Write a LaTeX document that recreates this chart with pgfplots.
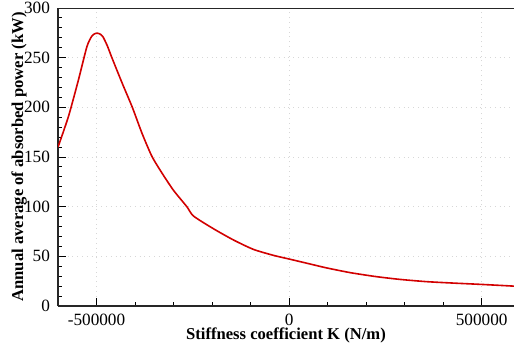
\documentclass[border=0pt]{standalone}
\usepackage{fontspec}
\setmainfont{Liberation Serif}
\usepackage{pgfplots}
\pgfplotsset{compat=1.18}
\definecolor{curvered}{RGB}{210,0,0}
\definecolor{gridgray}{RGB}{215,215,215}
\begin{document}
\begin{tikzpicture}
\begin{axis}[
  name=ax,
  scale only axis,
  width=228pt, height=149pt,
  xmin=-600000, xmax=584000,
  ymin=0, ymax=300,
  axis x line*=bottom,
  axis y line*=left,
  axis line style={-, line width=1pt, black!85},
  scaled x ticks=false,
  xtick={-500000,0,500000},
  xticklabels={-500000,0,500000},
  ytick={0,50,100,150,200,250,300},
  minor x tick num=4,
  minor y tick num=4,
  tick align=inside,
  xtick pos=bottom, ytick pos=left,
  major tick length=4pt,
  minor tick length=2.2pt,
  every tick/.style={black, line width=0.5pt},
  grid=major,
  major grid style={gridgray, dotted, line width=0.5pt},
  /pgf/number format/assume math mode=true,
  tick label style={font=\fontsize{8.6pt}{10pt}\selectfont},
  yticklabel style={xshift=-0.5pt},
  xticklabel style={yshift=-0.5pt},
  xlabel={\textbf{Stiffness coefficient K (N/m)}},
  ylabel={\textbf{Annual average of absorbed power (kW)}},
  label style={font=\fontsize{8.3pt}{10pt}\selectfont},
  xlabel style={at={(axis description cs:0.5,0)}, anchor=base, yshift=-16.5pt},
  ylabel style={at={(axis description cs:-0.0855,0.5)}, anchor=center},
  clip=true,
]
\addplot[curvered, line width=0.8pt, smooth, tension=0.4] coordinates {
(-600000,160)
(-573000,190.6)
(-547000,227.5)
(-525000,261)
(-512000,271.8)
(-502000,274.5)
(-493000,274.2)
(-484000,271.5)
(-472000,262)
(-460100,250)
(-433000,224)
(-407000,200)
(-382000,174)
(-356600,151)
(-330300,134)
(-300200,116.5)
(-265500,100)
(-248000,90.5)
(-196000,77.7)
(-144500,66.5)
(-92600,57)
(-40700,51)
(0,47.3)
(50000,42.7)
(98000,38.3)
(160000,33.5)
(227700,29.5)
(290000,26.7)
(357600,24.5)
(430000,23)
(496000,21.8)
(584000,20)
};
\draw[line width=1pt, black!85] (rel axis cs:0,1) -- (rel axis cs:1,1);
\end{axis}
\pgfresetboundingbox
\path ([shift={(-29pt,-21pt)}]ax.south west) rectangle ([shift={(0pt,4pt)}]ax.north east);
\end{tikzpicture}
\end{document}
